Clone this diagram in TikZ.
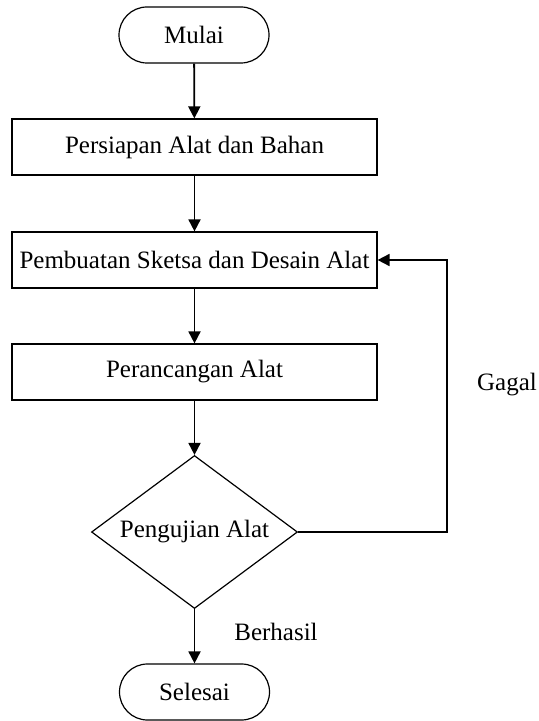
\documentclass[tikz,border=0pt]{standalone}
\usepackage{fontspec}
\setmainfont{Liberation Serif}
\usepackage{tikz}
\usetikzlibrary{arrows.meta,shapes.geometric}

\tikzset{
	terminal/.style={draw, rectangle, rounded corners=14pt, minimum width=75pt, minimum height=28pt, line width=0.6pt},
	process/.style={draw, rectangle, minimum width=182.5pt, minimum height=28pt, inner sep=1pt, line width=0.6pt},
	decision/.style={draw, diamond, aspect=1.35, minimum width=103pt, minimum height=76.5pt, inner sep=0pt, line width=0.6pt},
	flow/.style={->, line width=0.9pt}
}

\begin{document}
\begin{tikzpicture}[x=0.5pt, y=-0.5pt, >={Triangle[length=6pt,width=6pt]}, font=\fontsize{12.5}{15}\selectfont]
	\useasboundingbox (0, 0) rectangle (539, 721);

	\node[terminal] (mulai) at (194, 35) {Mulai};
	\node[process] (persiapan) at (194.5, 147) {Persiapan Alat dan Bahan};
	\node[process] (sketsa) at (194.5, 260) {Pembuatan Sketsa dan Desain Alat};
	\node[process] (rancang) at (194.5, 372) {Perancangan Alat};
	\node[decision] (uji) at (194.5, 532) {Pengujian Alat};
	\node[terminal] (selesai) at (194.5, 692) {Selesai};

	\draw[flow] (mulai) -- (persiapan);
	\draw[flow] (persiapan) -- (sketsa);
	\draw[flow] (sketsa) -- (rancang);
	\draw[flow] (rancang) -- (uji);
	\draw[flow] (uji) -- (selesai);

	% loop back when testing fails
	\coordinate (balik) at (447, 532);
	\draw[flow] (uji.east) -- (balik) |- (sketsa.east);

	\node (gagal) at (507, 385) {Gagal};
	\node (berhasil) at (276, 632) {Berhasil};
\end{tikzpicture}
\end{document}
